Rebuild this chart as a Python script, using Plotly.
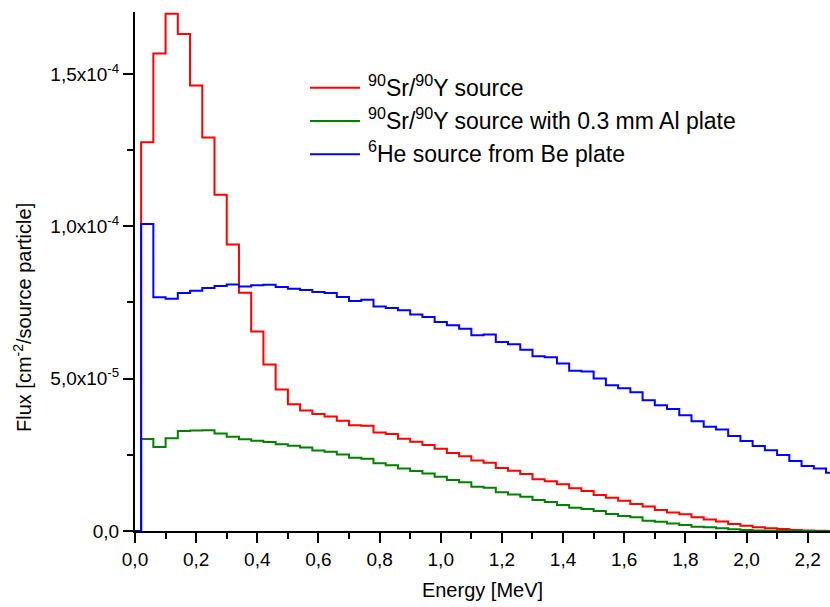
import numpy as np
import plotly.graph_objects as go

# Histogram binning: 0.04 MeV bins, first bin starts at 0.02 MeV
bin_start = 0.02
bin_width = 0.04
n_bins = 57

# Flux per bin, in units of 1e-5 cm^-2 per source particle
sr_y = [12.76, 15.67, 16.97, 16.31, 14.62, 12.91, 11.03, 9.40, 7.82, 6.55,
        5.46, 4.64, 4.16, 3.95, 3.84, 3.76, 3.62, 3.47, 3.45, 3.23,
        3.18, 3.03, 2.93, 2.82, 2.70, 2.56, 2.45, 2.31, 2.24, 2.07,
        1.98, 1.87, 1.70, 1.63, 1.53, 1.40, 1.31, 1.18, 1.09, 0.99,
        0.885, 0.80, 0.69, 0.61, 0.55, 0.45, 0.38, 0.31, 0.23, 0.175,
        0.12, 0.088, 0.066, 0.033, 0.02, 0.005, 0.0]

sr_y_al = [3.02, 2.76, 3.04, 3.28, 3.30, 3.31, 3.20, 3.09, 3.01, 2.96,
           2.92, 2.85, 2.80, 2.74, 2.64, 2.60, 2.51, 2.40, 2.37, 2.22,
           2.16, 2.05, 1.97, 1.89, 1.78, 1.67, 1.60, 1.45, 1.42, 1.27,
           1.20, 1.12, 1.02, 0.95, 0.85, 0.76, 0.72, 0.655, 0.557, 0.49,
           0.45, 0.34, 0.30, 0.25, 0.20, 0.14, 0.12, 0.09, 0.06, 0.035,
           0.02, 0.01, 0.005, 0.003, 0.0, 0.0, 0.0]

he6 = [10.07, 7.67, 7.62, 7.81, 7.88, 7.97, 8.04, 8.09, 8.02, 8.06,
       8.08, 8.01, 7.95, 7.91, 7.84, 7.81, 7.68, 7.55, 7.59, 7.37,
       7.32, 7.24, 7.10, 7.02, 6.86, 6.75, 6.64, 6.42, 6.45, 6.20,
       6.13, 5.95, 5.73, 5.70, 5.50, 5.26, 5.23, 5.00, 4.78, 4.68,
       4.55, 4.29, 4.13, 4.00, 3.80, 3.60, 3.42, 3.33, 3.12, 2.95,
       2.79, 2.65, 2.49, 2.30, 2.13, 2.05, 1.91]

series_names = ["<sup>90</sup>Sr/<sup>90</sup>Y source",
                "<sup>90</sup>Sr/<sup>90</sup>Y source with 0.3 mm Al plate",
                "<sup>6</sup>He source from Be plate"]
series_colors = ["#FF0000", "#008000", "#0000FF"]

x_tick_vals = [0.0, 0.2, 0.4, 0.6, 0.8, 1.0, 1.2, 1.4, 1.6, 1.8, 2.0, 2.2]
x_tick_text = ["0,0", "0,2", "0,4", "0,6", "0,8", "1,0", "1,2", "1,4",
               "1,6", "1,8", "2,0", "2,2"]
y_tick_vals = [0.0, 5e-5, 1e-4, 1.5e-4]
y_tick_text = ["0,0", "5,0x10<sup>-5</sup>", "1,0x10<sup>-4</sup>",
               "1,5x10<sup>-4</sup>"]

edges = bin_start + bin_width * np.arange(n_bins + 1)

W, H = 830, 607
L, R, T, B = 135, 0, 12, 76
pw, ph = W - L - R, H - T - B


def px_to_paper(px, py):
    return (px - L) / pw, (H - B - py) / ph


FONT = "Liberation Sans, Arial, sans-serif"

fig = go.Figure()
for vals, name, col in zip([sr_y, sr_y_al, he6], series_names, series_colors):
    y = np.array(vals) * 1e-5
    xs = np.concatenate([[0.0], edges])
    ys = np.concatenate([[0.0], y, [y[-1]]])
    fig.add_trace(go.Scatter(x=xs, y=ys, mode="lines", name=name,
                             line=dict(color=col, width=2, shape="hv"),
                             showlegend=False))

# Legend drawn as short line samples with labels
legend_rows = [87.7, 121.0, 154.3]
for name, col, ry in zip(series_names, series_colors, legend_rows):
    x0, yy = px_to_paper(310, ry)
    x1, _ = px_to_paper(360, ry)
    fig.add_shape(type="line", xref="paper", yref="paper",
                  x0=x0, x1=x1, y0=yy, y1=yy,
                  line=dict(color=col, width=2))
    tx, ty = px_to_paper(366, ry - 2)
    fig.add_annotation(xref="paper", yref="paper", x=tx, y=ty,
                       text=name, showarrow=False, xanchor="left",
                       yanchor="middle",
                       font=dict(family=FONT, size=23, color="black"))

# Y-axis title
yx, yy = px_to_paper(22, 318)
fig.add_annotation(xref="paper", yref="paper", x=yx, y=yy,
                   text="Flux [cm<sup>-2</sup>/source particle]",
                   textangle=-90, showarrow=False,
                   xanchor="center", yanchor="middle",
                   font=dict(family=FONT, size=20, color="black"))

axis_common = dict(showline=True, linecolor="black", linewidth=2,
                   ticks="outside", ticklen=10, tickwidth=2,
                   tickcolor="black", showgrid=False, zeroline=False,
                   tickfont=dict(family=FONT, size=19, color="black"),
                   mirror=False)

fig.update_xaxes(range=[0, 2.273], tickvals=x_tick_vals, ticktext=x_tick_text,
                 minor=dict(dtick=0.1, tick0=0, ticks="outside", ticklen=6,
                            tickwidth=2, tickcolor="black"),
                 title=dict(text="Energy [MeV]", standoff=14,
                            font=dict(family=FONT, size=20, color="black")),
                 **axis_common)
fig.update_yaxes(range=[0, 1.703e-4], tickvals=y_tick_vals,
                 ticktext=y_tick_text,
                 minor=dict(dtick=2.5e-5, tick0=0, ticks="outside",
                            ticklen=6, tickwidth=2, tickcolor="black"),
                 **axis_common)

fig.update_layout(width=W, height=H,
                  margin=dict(l=L, r=R, t=T, b=B, pad=0),
                  plot_bgcolor="white", paper_bgcolor="white",
                  font=dict(family=FONT, color="black"))

fig.write_html("out.html")
